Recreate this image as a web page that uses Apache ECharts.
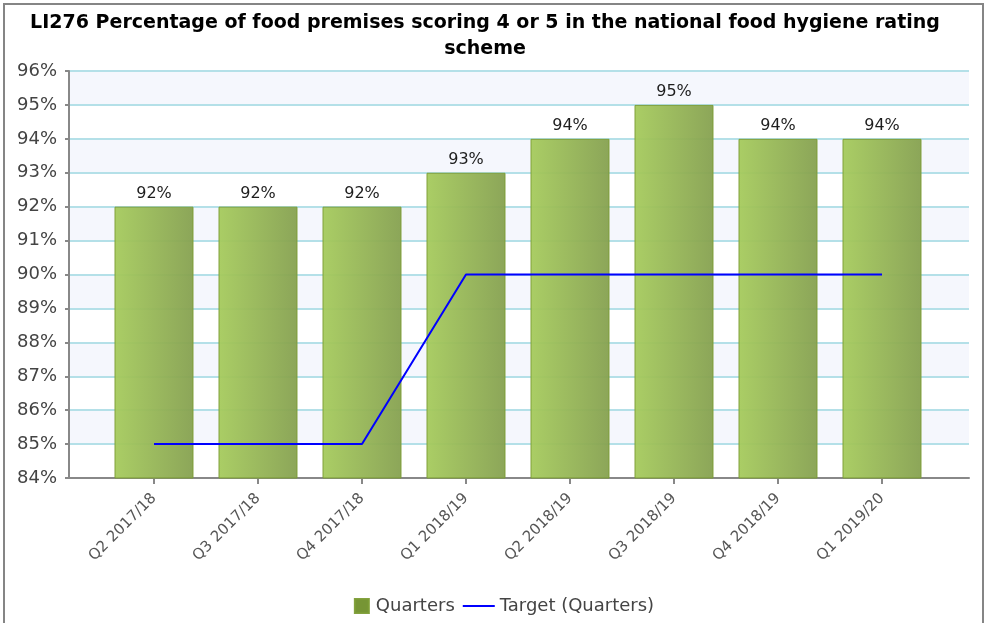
<!DOCTYPE html>
<html>
<head>
<meta charset="utf-8">
<script src="https://cdn.jsdelivr.net/npm/echarts@6/dist/echarts.min.js"></script>
<style>
  html, body { margin: 0; padding: 0; background: #fff; }
  #frame { position: absolute; left: 3px; top: 3px; width: 981px; height: 640px; border: 2px solid #858585; box-sizing: border-box; }
  #chart { position: absolute; left: 0; top: 0; width: 994px; height: 623px; }
</style>
</head>
<body>
<div id="frame"></div>
<div id="chart"></div>
<script>
const categories = ["Q2 2017/18", "Q3 2017/18", "Q4 2017/18", "Q1 2018/19", "Q2 2018/19", "Q3 2018/19", "Q4 2018/19", "Q1 2019/20"];
const quarters = [92, 92, 92, 93, 94, 95, 94, 94];
const target = [85, 85, 85, 90, 90, 90, 90, 90];
const yMin = 84;
const yMax = 96;

const chart = echarts.init(document.getElementById("chart"));
const font = "DejaVu Sans, Verdana, sans-serif";

chart.setOption({
  animation: false,
  title: {
    text: "LI276 Percentage of food premises scoring 4 or 5 in the national food hygiene rating\nscheme",
    left: 480,
    textAlign: "center",
    top: 5,
    textStyle: { fontFamily: font, fontSize: 19, fontWeight: "bold", color: "#000", lineHeight: 26 },
  },
  legend: {
    bottom: 3,
    left: "center",
    itemGap: 8,
    itemWidth: 32,
    itemHeight: 14,
    symbolKeepAspect: true,
    textStyle: { fontFamily: font, fontSize: 18, color: "#444" },
    data: [
      // square drawn right of an invisible point so the gap to its text matches
      { name: "Quarters", icon: "path://M0,7 L0,7 M14,0 L28,0 L28,14 L14,14 Z", itemStyle: { color: "#6f8f2a" } },
      { name: "Target (Quarters)", icon: "path://M0,6 L32,6 L32,8 L0,8 Z", itemStyle: { color: "#0000ff" } },
    ],
  },
  grid: [
    // background: y axis, split lines, full x axis line
    { left: 69, right: 25, top: 71, bottom: 145 },
    // data grid
    { left: 102, width: 832, top: 71, bottom: 145 },
  ],
  xAxis: [
    {
      gridIndex: 0,
      type: "category",
      data: categories,
      axisLine: { lineStyle: { color: "#888", width: 2 } },
      axisTick: { show: false },
      axisLabel: { show: false },
      splitLine: { show: false },
    },
    {
      gridIndex: 1,
      type: "category",
      data: categories,
      axisLine: { show: false },
      axisTick: { show: true, alignWithLabel: true, length: 6, lineStyle: { color: "#888", width: 2 } },
      axisLabel: { rotate: 45, fontFamily: font, fontSize: 15, color: "#555", margin: 18 },
    },
  ],
  yAxis: [
    {
      gridIndex: 0,
      type: "value",
      min: yMin,
      max: yMax,
      interval: 1,
      axisLine: { show: true, lineStyle: { color: "#888", width: 2 } },
      axisTick: { show: true, length: 4, lineStyle: { color: "#888", width: 2 } },
      axisLabel: { formatter: "{value}%", fontFamily: font, fontSize: 18, color: "#444", margin: 12 },
      splitLine: { lineStyle: { color: "#b4e0e8", width: 2 } },
      splitArea: { show: true, areaStyle: { color: ["#ffffff", "#f5f7fd"] } },
    },
    {
      gridIndex: 1,
      type: "value",
      min: yMin,
      max: yMax,
      interval: 1,
      show: false,
      splitLine: { show: false },
    },
  ],
  series: [
    {
      name: "Quarters",
      type: "bar",
      xAxisIndex: 1,
      yAxisIndex: 1,
      data: quarters,
      barWidth: 79,
      itemStyle: {
        color: new echarts.graphic.LinearGradient(0, 0, 1, 0, [
          { offset: 0, color: "#a6cb5d" },
          { offset: 1, color: "#86a150" },
        ]),
        borderColor: "#7d9d36",
        borderWidth: 1,
        opacity: 0.95,
      },
      label: {
        show: true,
        position: "top",
        distance: 5,
        formatter: "{c}%",
        fontFamily: font,
        fontSize: 16,
        color: "#111",
      },
    },
    {
      name: "Target (Quarters)",
      type: "line",
      xAxisIndex: 1,
      yAxisIndex: 1,
      data: target,
      symbol: "none",
      lineStyle: { color: "#0000ff", width: 2 },
      itemStyle: { color: "#0000ff" },
      z: 5,
    },
  ],
});
</script>
</body>
</html>
